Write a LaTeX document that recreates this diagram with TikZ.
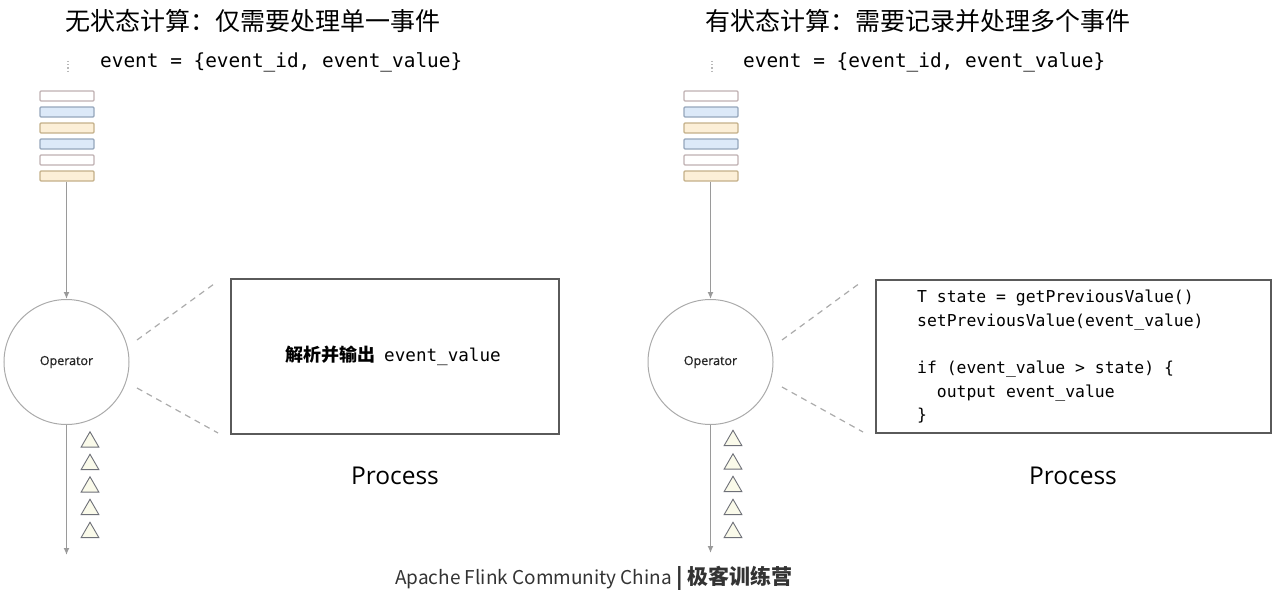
\documentclass[tikz,border=0pt]{standalone}
\usepackage{fontspec}
\setmainfont{Open Sans}
\newfontfamily\cjk{Noto Sans CJK SC}
\newfontfamily\mono{DejaVu Sans Mono}
\newfontfamily\opfont{Open Sans}[FakeBold=0.8]
\usetikzlibrary{arrows.meta,shapes.geometric}
\definecolor{arrgray}{HTML}{9A9A9A}
\definecolor{circgray}{HTML}{AAAAAA}
\definecolor{boxgray}{HTML}{5A5A5A}
\definecolor{evWd}{HTML}{BFB0B2}
\definecolor{evBf}{HTML}{DCE9F8}
\definecolor{evBd}{HTML}{95A6BB}
\definecolor{evOf}{HTML}{FCEFD7}
\definecolor{evOd}{HTML}{C4B089}
\definecolor{trif}{HTML}{FAFAEA}
\definecolor{trid}{HTML}{6E7078}
\tikzset{
  evbox/.style={draw, line width=1.2pt, rounded corners=1pt, minimum width=54pt, minimum height=10pt, inner sep=0pt},
  evW/.style={evbox, draw=evWd, fill=white},
  evB/.style={evbox, draw=evBd, fill=evBf},
  evO/.style={evbox, draw=evOd, fill=evOf},
  opcirc/.style={circle, draw=circgray, line width=1pt, minimum size=125pt, inner sep=0pt, text=black!85, font=\opfont\fontsize{12.5}{14}\selectfont},
  flow/.style={draw=arrgray, line width=1.3pt, -{Latex[length=7pt,width=6pt]}},
  zoomline/.style={draw=circgray, line width=1.2pt, dash pattern=on 6pt off 5pt},
  procbox/.style={draw=boxgray, line width=1.5pt, inner sep=0pt},
  outtri/.style={regular polygon, regular polygon sides=3, draw=trid, fill=trif, line width=0.9pt, minimum size=20.5pt, inner sep=0pt},
  title/.style={font=\cjk\fontsize{25}{28}\selectfont, inner sep=0pt},
  evtext/.style={font=\mono\fontsize{19.4}{22}\selectfont, inner sep=0pt},
  proclabel/.style={font=\fontsize{24.5}{28}\selectfont, inner sep=0pt},
  marker/.style={draw=gray!55, line width=1.2pt, dash pattern=on 1.2pt off 2pt},
}
\begin{document}
\begin{tikzpicture}[x=1pt,y=-1pt]
\useasboundingbox (0,0) rectangle (1272,602);

% ---------------- Left: stateless ----------------
\node[title, anchor=west] (titleL) at (65,21) {无状态计算：仅需要处理单一事件};
\draw[marker] (68,61) -- (68,71);
\node[evtext, anchor=west] (evL) at (100,62) {event = \{event\_id, event\_value\}};

\node[evW] (bL1) at (67,96) {};
\node[evB] (bL2) at (67,112) {};
\node[evO] (bL3) at (67,128) {};
\node[evB] (bL4) at (67,144) {};
\node[evW] (bL5) at (67,160) {};
\node[evO] (bL6) at (67,176) {};

\node[opcirc] (opL) at (66.5,362) {Operator};
\coordinate (endL) at (66.5,555);
\draw[flow] (bL6.south -| opL.north) -- (opL.north);
\draw[flow] (opL.south) -- (endL);

\foreach \i/\y in {1/439.5,2/462,3/484.5,4/507,5/530}{
  \node[outtri] (tL\i) at (90,\y+2.5) {};
}

\node[procbox, minimum width=328pt, minimum height=155pt] (boxL) at (395,356.5) {};
\node[inner sep=0pt] (txtL) at (393,356) {{\cjk\bfseries\fontsize{18}{20}\selectfont 解析并输出}\hspace{0.9em}{\mono\fontsize{17.6}{20}\selectfont event\_value}};
\coordinate (zL1a) at (137,340);
\coordinate (zL1b) at (214,284);
\coordinate (zL2a) at (137,388);
\coordinate (zL2b) at (218,433);
\draw[zoomline] (zL1a) -- (zL1b);
\draw[zoomline] (zL2a) -- (zL2b);
\node[proclabel] (procL) at (395,476) {Process};

% ---------------- Right: stateful ----------------
\node[title, anchor=west] (titleR) at (705,21) {有状态计算：需要记录并处理多个事件};
\draw[marker] (712,61) -- (712,71);
\node[evtext, anchor=west] (evR) at (743,62) {event = \{event\_id, event\_value\}};

\node[evW] (bR1) at (711,96) {};
\node[evB] (bR2) at (711,112) {};
\node[evO] (bR3) at (711,128) {};
\node[evB] (bR4) at (711,144) {};
\node[evW] (bR5) at (711,160) {};
\node[evO] (bR6) at (711,176) {};

\node[opcirc] (opR) at (710.5,362) {Operator};
\coordinate (endR) at (710.5,553);
\draw[flow] (bR6.south -| opR.north) -- (opR.north);
\draw[flow] (opR.south) -- (endR);

\foreach \i/\y in {1/438,2/461.5,3/484,4/507,5/530}{
  \node[outtri] (tR\i) at (733,\y+2.5) {};
}

\node[procbox, minimum width=395pt, minimum height=153pt] (boxR) at (1073.5,356.5) {};
\node[inner sep=0pt, anchor=north west, align=left, font=\mono\fontsize{16.4}{23.6}\selectfont] (codeR) at (917,290) {T state = getPreviousValue()\\
setPreviousValue(event\_value)\\[23.6pt]
if (event\_value > state) \{\\
\phantom{xx}output event\_value\\
\}};
\coordinate (zR1a) at (782,340);
\coordinate (zR1b) at (860,283);
\coordinate (zR2a) at (782,387);
\coordinate (zR2b) at (863,432);
\draw[zoomline] (zR1a) -- (zR1b);
\draw[zoomline] (zR2a) -- (zR2b);
\node[proclabel] (procR) at (1073,476) {Process};

% ---------------- Footer ----------------
\node[inner sep=0pt, anchor=west, font=\cjk\fontsize{19}{22}\selectfont, text=black!80] (footer) at (395,578) {Apache Flink Community China {\bfseries\fontsize{21}{22}\selectfont | 极客训练营}};
\end{tikzpicture}
\end{document}
